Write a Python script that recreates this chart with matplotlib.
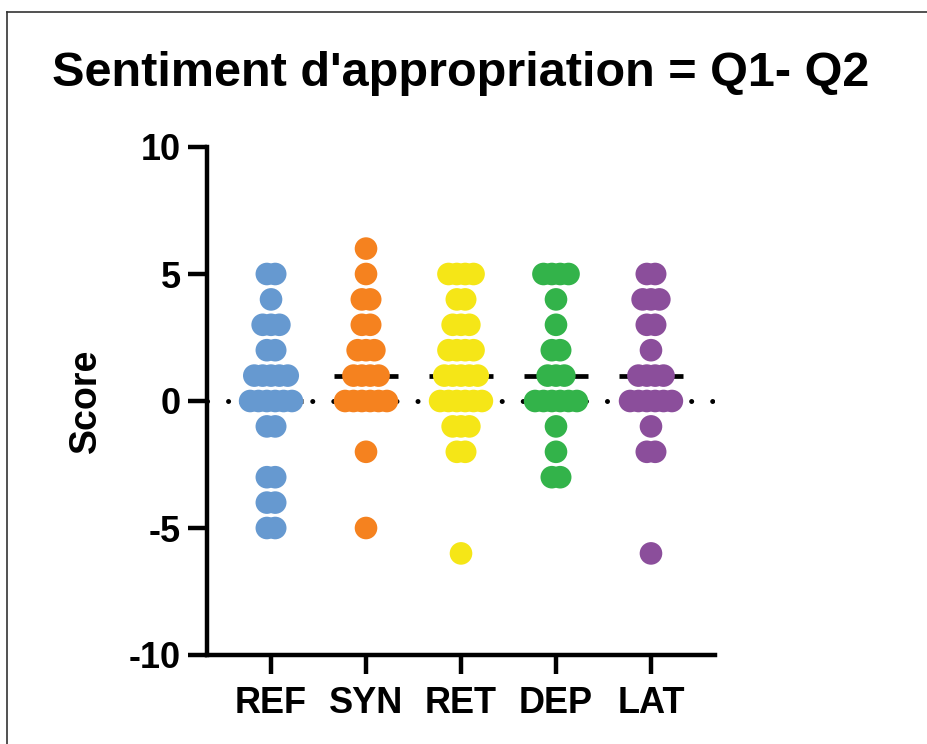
import numpy as np
import matplotlib
matplotlib.use("Agg")
import matplotlib.pyplot as plt
from matplotlib.lines import Line2D

plt.rcParams['font.family'] = ['Liberation Sans', 'DejaVu Sans']
plt.rcParams['font.weight'] = 'bold'

# Scores per group (Q1 - Q2)
groups = ["REF", "SYN", "RET", "DEP", "LAT"]
ref_scores = [5, 5, 4, 3, 3, 3, 2, 2, 1, 1, 1, 1, 1, 0, 0, 0, 0, 0, 0,
              -1, -1, -3, -3, -4, -4, -5, -5]
syn_scores = [6, 5, 4, 4, 3, 3, 2, 2, 2, 1, 1, 1, 1, 0, 0, 0, 0, 0, 0,
              -2, -5]
ret_scores = [5, 5, 5, 5, 4, 4, 3, 3, 3, 2, 2, 2, 2, 1, 1, 1, 1, 1,
              0, 0, 0, 0, 0, 0, -1, -1, -1, -2, -2, -6]
dep_scores = [5, 5, 5, 5, 4, 3, 2, 2, 1, 1, 1, 0, 0, 0, 0, 0, 0,
              -1, -2, -3, -3]
lat_scores = [5, 5, 4, 4, 4, 3, 3, 2, 1, 1, 1, 1, 0, 0, 0, 0, 0, 0,
              -1, -2, -2, -6]
all_scores = [ref_scores, syn_scores, ret_scores, dep_scores, lat_scores]
colors = ["#6699D0", "#F5821F", "#F5E617", "#33B34A", "#8B4E9B"]

fig = plt.figure(figsize=(9.27, 7.44), dpi=100)
ax = fig.add_axes([207 / 927, 1 - 655 / 744, 508 / 927, 508 / 744])

step = 0.088  # horizontal offset between tied points
for i, (scores, c) in enumerate(zip(all_scores, colors)):
    vals = np.array(scores)
    xs, ys = [], []
    for v in np.unique(vals):
        n = int(np.sum(vals == v))
        offs = (np.arange(n) - (n - 1) / 2) * step
        xs.extend(i + offs)
        ys.extend([v] * n)
    med = np.median(vals)
    ax.plot([i - 0.337, i + 0.337], [med, med], color="black", lw=3.4,
            solid_capstyle="butt", zorder=2)
    ax.scatter(xs, ys, s=265, color=c, edgecolors="none", zorder=3)

# Dotted zero line
ax.axhline(0, color="black", lw=3.6, linestyle=(0, (0.01, 4.2)),
           dash_capstyle="round", zorder=1)

ax.set_xlim(-0.674, 4.674)
ax.set_ylim(-10, 10)
ax.set_yticks([-10, -5, 0, 5, 10])
ax.set_yticklabels(["-10", "-5", "0", "5", "10"])
ax.set_xticks(range(len(groups)))
ax.set_xticklabels(groups)

for side in ["top", "right"]:
    ax.spines[side].set_visible(False)
for side in ["left", "bottom"]:
    ax.spines[side].set_linewidth(3.2)
    ax.spines[side].set_capstyle("projecting")

ax.tick_params(axis="both", direction="out", length=14, width=3.2,
               labelsize=26, colors="black")
ax.tick_params(axis="y", pad=5)
ax.tick_params(axis="x", pad=8)
for lab in ax.get_xticklabels() + ax.get_yticklabels():
    lab.set_fontweight("bold")

ax.set_ylabel("Score", fontsize=27, fontweight="bold", labelpad=18)
ax.set_title("Sentiment d'appropriation = Q1- Q2", fontsize=35,
             fontweight="bold", pad=44)

# Thin frame along top and left edges
fig.add_artist(Line2D([7 / 927, 1], [1 - 12 / 744, 1 - 12 / 744],
                      transform=fig.transFigure, color="#333333", lw=1.2))
fig.add_artist(Line2D([7 / 927, 7 / 927], [0, 1 - 12 / 744],
                      transform=fig.transFigure, color="#333333", lw=1.2))

fig.savefig("out.png", dpi=100, facecolor="white")
